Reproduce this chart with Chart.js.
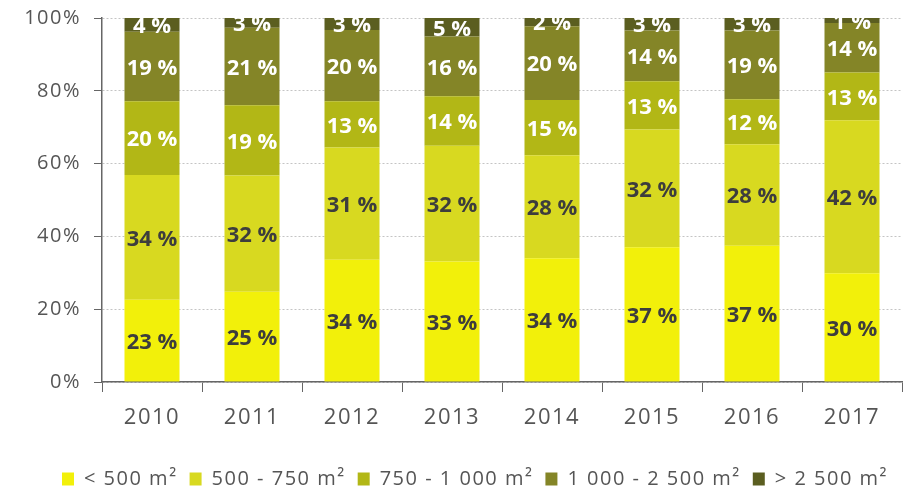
<!DOCTYPE html>
<html>
<head>
<meta charset="utf-8">
<script src="https://cdn.jsdelivr.net/npm/chart.js@4.4.0/dist/chart.umd.min.js"></script>
<style>
  html, body { margin: 0; padding: 0; background: #fff; }
  #wrap { width: 909px; height: 486px; }
</style>
</head>
<body>
<div id="wrap"><canvas id="chart"></canvas></div>
<script>
// data (share of shops per surface class, %)
const years = ['2010', '2011', '2012', '2013', '2014', '2015', '2016', '2017'];
const seriesNames = ['< 500 m²', '500 - 750 m²', '750 - 1 000 m²', '1 000 - 2 500 m²', '> 2 500 m²'];
const under500 = [22.6, 24.8, 33.6, 33.1, 34.0, 37.0, 37.4, 29.9];
const from500to750 = [34.3, 31.9, 30.8, 31.8, 28.3, 32.4, 27.9, 42.0];
const from750to1000 = [20.2, 19.3, 12.7, 13.6, 15.2, 13.2, 12.4, 13.1];
const from1000to2500 = [19.1, 21.3, 19.6, 16.4, 20.2, 14.0, 18.9, 13.6];
const over2500 = [3.8, 2.7, 3.3, 5.1, 2.3, 3.4, 3.4, 1.4];
const yTicks = [0, 20, 40, 60, 80, 100];

const colors = ['#f2f00a', '#d8d920', '#b2b716', '#848527', '#5b5e20'];
const labelColors = ['#3d3d3d', '#3d3d3d', '#ffffff', '#ffffff', '#ffffff'];
const FONT = '"Open Sans", sans-serif';

// percent labels in the middle of each segment
const segmentLabels = {
    id: 'segmentLabels',
    afterDatasetsDraw(chart) {
        const { ctx, chartArea } = chart;
        ctx.save();
        ctx.letterSpacing = '0px';
        ctx.beginPath();
        ctx.rect(chartArea.left, chartArea.top, chartArea.right - chartArea.left, chartArea.bottom - chartArea.top);
        ctx.clip();
        ctx.font = 'bold 22px ' + FONT;
        ctx.textAlign = 'center';
        ctx.textBaseline = 'middle';
        chart.data.datasets.forEach((ds, i) => {
            const meta = chart.getDatasetMeta(i);
            ctx.fillStyle = labelColors[i];
            meta.data.forEach((bar, j) => {
                ctx.fillText(Math.round(ds.data[j]) + ' %', bar.x, (bar.y + bar.base) / 2 + 2);
            });
        });
        ctx.restore();
    }
};

// the original axis text is set a little wide, legend sits a bit right of centre
const wideText = {
    id: 'wideText',
    beforeUpdate(chart) { chart.ctx.letterSpacing = '1.5px'; },
    afterLayout(chart) {
        chart.legend.left += 24;
        chart.legend.right += 24;
    },
    beforeDraw(chart) { chart.ctx.letterSpacing = '1.5px'; }
};

const seriesValues = [under500, from500to750, from750to1000, from1000to2500, over2500];

new Chart(document.getElementById('chart'), {
    type: 'bar',
    data: {
        labels: years,
        datasets: seriesValues.map((vals, i) => ({
            label: seriesNames[i],
            data: vals,
            backgroundColor: colors[i],
            borderWidth: 0,
            barPercentage: 0.55,
            categoryPercentage: 1
        }))
    },
    plugins: [wideText, segmentLabels],
    options: {
        responsive: true,
        maintainAspectRatio: false,
        animation: false,
        layout: { padding: { top: 18, right: 7, left: 0, bottom: -13 } },
        plugins: {
            tooltip: { enabled: false },
            legend: {
                position: 'bottom',
                labels: {
                    boxWidth: 12,
                    boxHeight: 13,
                    padding: 12,
                    color: '#555',
                    font: { family: FONT, size: 20 }
                }
            }
        },
        scales: {
            x: {
                stacked: true,
                grid: { offset: true, drawOnChartArea: false, tickLength: 10, tickColor: '#666' },
                border: { color: '#666', width: 1.5 },
                ticks: { color: '#555', font: { family: FONT, size: 22 }, padding: 13 },
                afterFit(s) { s.height = 75; }
            },
            y: {
                stacked: true,
                min: 0,
                max: 100,
                afterBuildTicks(s) { s.ticks = yTicks.map(v => ({ value: v })); },
                ticks: { color: '#555', font: { family: FONT, size: 20 }, padding: 13, callback: v => v + '%' },
                grid: { color: '#c4c4c4', tickColor: '#666', tickLength: 8 },
                border: { color: '#666', width: 1.5, dash: [2, 2] },
                afterFit(s) {
                    s.width = 102;
                    s.paddingTop = 12;
                    s.paddingBottom = 12;
                }
            }
        }
    }
});
</script>
</body>
</html>
